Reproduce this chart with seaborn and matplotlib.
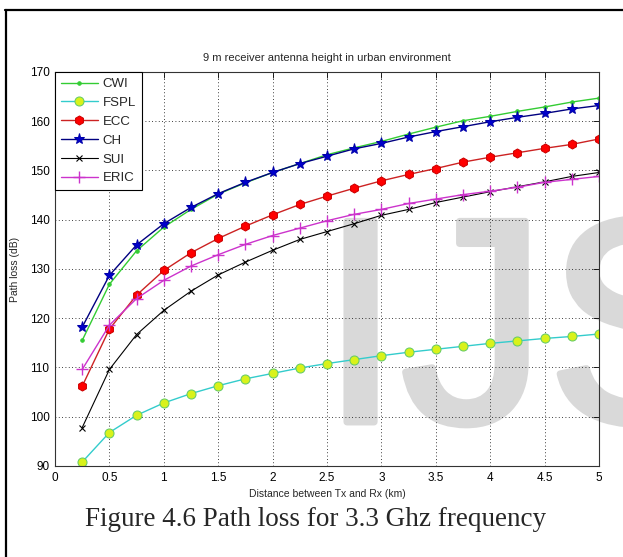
import numpy as np
import pandas as pd
import matplotlib
matplotlib.use("Agg")
import matplotlib.pyplot as plt
import matplotlib.patheffects as pe
import seaborn as sns
from matplotlib.lines import Line2D

# ---- data ----
distance = [0.25, 0.5, 0.75, 1.0, 1.25, 1.5, 1.75, 2.0, 2.25, 2.5,
            2.75, 3.0, 3.25, 3.5, 3.75, 4.0, 4.25, 4.5, 4.75, 5.0]
cwi = [115.5, 126.9, 133.7, 138.5, 142.1, 145.2, 147.5, 149.6, 151.4, 153.2,
       154.6, 155.9, 157.4, 158.8, 160.1, 161.0, 162.0, 162.9, 163.9, 164.7]
fspl = [90.8, 96.8, 100.3, 102.8, 104.7, 106.3, 107.7, 108.8, 109.9, 110.8,
        111.6, 112.4, 113.1, 113.7, 114.3, 114.9, 115.4, 115.9, 116.3, 116.8]
ecc = [106.2, 117.8, 124.7, 129.7, 133.3, 136.2, 138.7, 141.0, 143.1, 144.8,
       146.4, 147.9, 149.2, 150.4, 151.7, 152.7, 153.6, 154.5, 155.3, 156.4]
ch = [118.2, 128.7, 134.9, 139.2, 142.5, 145.3, 147.6, 149.6, 151.4, 152.9,
      154.4, 155.5, 156.8, 157.9, 158.9, 159.9, 160.8, 161.6, 162.5, 163.2]
sui = [97.8, 109.6, 116.7, 121.6, 125.5, 128.8, 131.4, 133.8, 136.0, 137.6,
       139.2, 140.9, 142.1, 143.5, 144.6, 145.7, 146.7, 147.7, 148.8, 149.6]
eric = [109.6, 118.6, 124.0, 127.7, 130.6, 132.9, 135.0, 136.8, 138.3, 139.8,
        141.1, 142.1, 143.3, 144.2, 145.1, 145.8, 146.6, 147.6, 148.2, 148.8]

series_names = ["CWI", "FSPL", "ECC", "CH", "SUI", "ERIC"]
series_values = [cwi, fspl, ecc, ch, sui, eric]

title_text = "9 m receiver antenna height in urban environment"
xlabel_text = "Distance between Tx and Rx (km)"
ylabel_text = "Path loss (dB)"
caption_text = "Figure 4.6 Path loss for 3.3 Ghz frequency"
watermark_text = "IJS"
xticks = [0, 0.5, 1, 1.5, 2, 2.5, 3, 3.5, 4, 4.5, 5]
xtick_labels = ["0", "0.5", "1", "1.5", "2", "2.5", "3", "3.5", "4", "4.5", "5"]
yticks = [90, 100, 110, 120, 130, 140, 150, 160, 170]

# ---- styling ----
sns.set_style("white")
plt.rcParams["font.family"] = ["Liberation Sans", "DejaVu Sans"]

styles = {
    "CWI":  dict(color="#33cc33", marker=".", markersize=5, mfc="#33cc33", mec="#33cc33", lw=1.0),
    "FSPL": dict(color="#33cccc", marker="o", markersize=6.5, mfc="#d9f21a", mec="#66cc66", lw=1.0),
    "ECC":  dict(color="#cc2222", marker="h", markersize=6.5, mfc="#ff0000", mec="#cc0000", lw=1.0),
    "CH":   dict(color="#000080", marker="*", markersize=8, mfc="#0000cc", mec="#0000aa", lw=1.0),
    "SUI":  dict(color="#000000", marker="x", markersize=4, mfc="#000000", mec="#000000", lw=0.8, mew=0.8),
    "ERIC": dict(color="#cc33cc", marker="+", markersize=8, mfc="#cc33cc", mec="#cc33cc", lw=1.0, mew=1.0),
}

df = pd.DataFrame({"distance": distance})
for n, v in zip(series_names, series_values):
    df[n] = v

W, H = 623, 557
fig = plt.figure(figsize=(W / 100, H / 100), dpi=100, facecolor="white")

# watermark (behind the axes content)
wm = fig.text(320 / W, 1 - 422 / H, watermark_text, fontsize=210, color="#d9d9d9",
              family="Liberation Sans", ha="left", va="baseline", zorder=0)
wm.set_path_effects([pe.withStroke(linewidth=5, foreground="#d9d9d9")])

ax = fig.add_axes([55 / W, 1 - 466 / H, 544 / W, 394 / H])
ax.set_facecolor("none")
ax.set_zorder(1)

for n in series_names:
    st = dict(styles[n])
    sns.lineplot(data=df, x="distance", y=n, ax=ax, label=n, color=st.pop("color"),
                 marker=st.pop("marker"), markersize=st.pop("markersize"),
                 markerfacecolor=st.pop("mfc"), markeredgecolor=st.pop("mec"),
                 linewidth=st.pop("lw"), **st)

ax.set_xlim(0, 5)
ax.set_ylim(90, 170)
ax.set_xticks(xticks)
ax.set_xticklabels(xtick_labels)
ax.set_yticks(yticks)
ax.grid(True, linestyle=(0, (1, 3)), color="black", linewidth=0.6)
ax.tick_params(direction="in", length=4, width=0.6, top=True, right=True,
               labelsize=8.5, pad=4, colors="black")
for sp in ax.spines.values():
    sp.set_color("#333333")
    sp.set_linewidth(0.8)
    sp.set_visible(True)

ax.set_title(title_text, fontsize=8, pad=8)
ax.set_xlabel(xlabel_text, fontsize=7.5, labelpad=4)
ax.set_ylabel(ylabel_text, fontsize=7.5, labelpad=7)

leg = ax.legend(loc="upper left", borderaxespad=0, fontsize=9.5, frameon=True,
                fancybox=False, edgecolor="black", handlelength=2.8,
                handletextpad=0.35, labelspacing=0.5, borderpad=0.45)
leg.get_frame().set_linewidth(0.8)
leg.get_frame().set_facecolor("white")
leg.get_frame().set_alpha(1.0)

# caption
fig.text(316 / W, 1 - 520 / H, caption_text, fontsize=19.5,
         family=["Liberation Serif", "DejaVu Serif"], ha="center", va="center")

# outer frame (top and left borders)
fig.add_artist(Line2D([5 / W, 1.0], [1 - 10 / H, 1 - 10 / H], color="black", lw=1.6,
                      transform=fig.transFigure))
fig.add_artist(Line2D([6 / W, 6 / W], [1 - 10 / H, 0.0], color="black", lw=1.6,
                      transform=fig.transFigure))

fig.savefig("out.png", dpi=100, facecolor="white")
